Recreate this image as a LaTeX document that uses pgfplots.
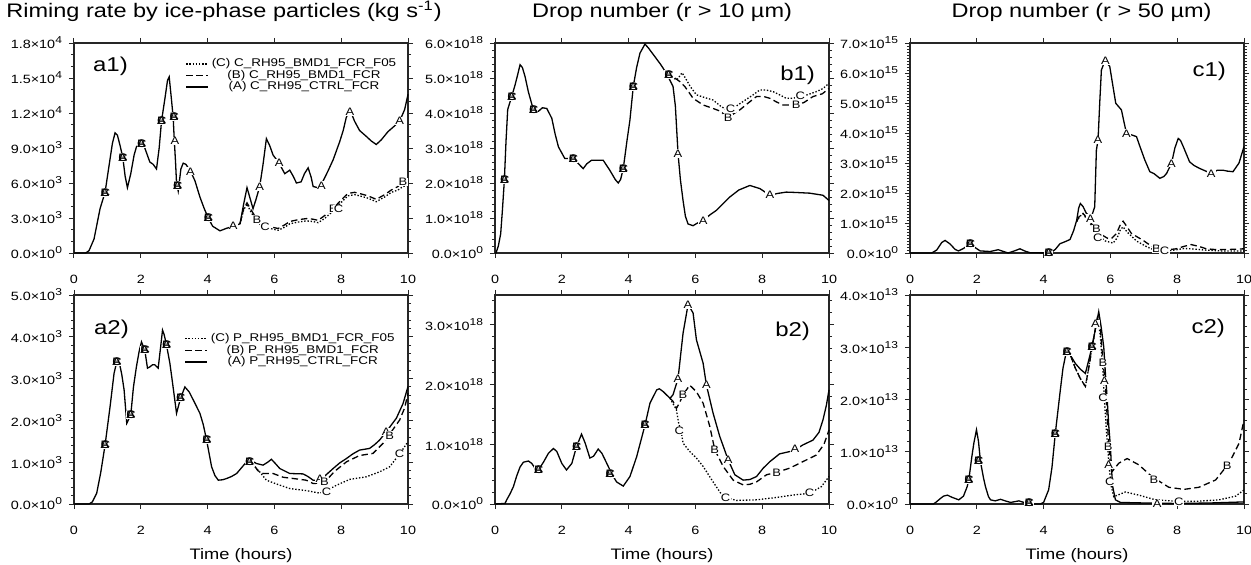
\documentclass[border=0pt]{standalone}
\usepackage{fontspec}
\setmainfont{Liberation Sans}[FakeStretch=1.2]
\usepackage{pgfplots}
\pgfplotsset{compat=1.18}

\newcommand\tickf{\fontsize{6}{7}\selectfont}
\newcommand\xtickf{\fontsize{6}{7}\selectfont}
\newcommand\labf{\fontsize{5.4}{6}\selectfont}
\newcommand\legf{\fontsize{5.6}{6}\selectfont}
\newcommand\titf{\fontsize{9.8}{11}\selectfont}
\newcommand\panf{\fontsize{10}{12}\selectfont}
\newcommand\xlf{\fontsize{7.6}{9}\selectfont}
\protected\def\ABC{\rlap{A}\rlap{C}B}
\newcommand\sci[2]{\mbox{\tickf #1×10\textsuperscript{#2}}}
\newcommand\xt[1]{\mbox{\xtickf #1}}

\pgfplotsset{
 panel/.style={anchor=south west, scale only axis, width=167pt, height=105pt,
   xmin=0, xmax=10, ymin=0, xtick={0,2,4,6,8,10},
   xticklabels={\xt{0},\xt{2},\xt{4},\xt{6},\xt{8},\xt{10}}, clip=false,
   tick align=outside, major tick length=2.6pt, minor tick length=1.6pt,
   axis line style={line width=0.6pt, black!85},
   every tick/.append style={line width=0.5pt, black!85},
   tick label style={font=\tickf},
   xticklabel style={anchor=base, yshift=-12.6pt},
   yticklabel style={xshift=0.6pt},
   legend image code/.code={\draw[##1] (0pt,0pt) -- (11pt,0pt);},
   title style={font=\titf, anchor=base, yshift=6.6pt},
   xlabel style={font=\xlf, at={(axis description cs:0.5,0)}, anchor=base, yshift=-27.6pt}},
 lA/.style={black, line width=0.65pt, solid},
 lB/.style={black, line width=0.65pt, dash pattern=on 3.2pt off 1.8pt},
 lC/.style={black, line width=0.65pt, dash pattern=on 0.7pt off 0.9pt},
 labs/.style={draw=none, mark=none, forget plot, nodes near coords, point meta=explicit symbolic,
   nodes near coords align=center,
   every node near coord/.style={font=\labf, fill=white, inner sep=0.2pt, anchor=center, text=black}},
 leg/.style={reverse legend, legend style={draw=none, fill=none, inner sep=0pt, row sep=0pt,
   column sep=1.5pt, font=\legf, nodes={inner sep=0pt, text height=4.2pt, text depth=1.6pt}}}
}

\begin{document}
\begin{tikzpicture}
\useasboundingbox (0,0) rectangle (625.5pt,282pt);

% ---------------- a1 ----------------
\begin{axis}[panel, leg, at={(37pt,155.5pt)},
  ymax=18, ytick={0,3,6,9,12,15,18}, minor y tick num=2,
  yticklabels={\sci{0.0}{0},\sci{3.0}{3},\sci{6.0}{3},\sci{9.0}{3},\sci{1.2}{4},\sci{1.5}{4},\sci{1.8}{4}},
  title={Riming rate by ice-phase particles (kg s\textsuperscript{-1})},
  title style={xshift=-8.5pt},
  legend style={at={(0.966,0.93)}, anchor=north east}]
\addplot[lA] coordinates {(0,0) (0.35,0) (0.45,0.2) (0.6,1.2) (0.78,3.8) (0.93,5.2) (1.05,7.5) (1.15,9.4) (1.23,10.3) (1.3,10.1) (1.38,9.2) (1.46,8.2) (1.53,6.6) (1.6,5.6) (1.7,6.8) (1.8,8.4) (1.87,9.1) (2.02,9.5) (2.12,9.0) (2.27,7.8) (2.37,7.6) (2.47,7.2) (2.55,9.0) (2.62,11.3) (2.72,13.2) (2.8,14.8) (2.85,15.1) (2.92,13.1) (2.97,11.6) (3.0,9.8) (3.04,7.8) (3.07,6.0) (3.12,5.3) (3.2,7.2) (3.27,7.7) (3.35,7.6) (3.49,7.0) (3.62,6.2) (3.77,4.8) (3.9,3.8) (4.02,3.0) (4.15,2.3) (4.37,1.9) (4.55,2.1) (4.77,2.3) (4.97,2.5) (5.08,4.2) (5.18,5.6) (5.27,4.7) (5.36,3.8) (5.45,4.6) (5.56,5.7) (5.66,7.6) (5.76,9.8) (5.86,9.2) (5.96,8.4) (6.14,7.7) (6.31,6.8) (6.46,7.1) (6.56,6.6) (6.66,6.0) (6.8,6.1) (6.9,6.8) (7.01,7.3) (7.1,6.5) (7.16,5.7) (7.3,5.6) (7.41,5.9) (7.6,7.0) (7.76,8.0) (7.95,9.5) (8.06,10.5) (8.15,11.6) (8.26,12.3) (8.4,11.3) (8.55,10.5) (8.75,10.0) (8.9,9.6) (9.05,9.3) (9.2,9.7) (9.4,10.4) (9.6,10.9) (9.75,11.3) (9.9,12.3) (10,13.6)};
\addlegendentry{(A) C\_RH95\_CTRL\_FCR}
\addplot[lB] coordinates {(4.97,2.5) (5.08,3.8) (5.18,4.3) (5.3,3.7) (5.5,2.8) (5.63,2.55) (5.76,2.4) (5.95,2.2) (6.11,2.1) (6.3,2.4) (6.46,2.7) (6.7,2.85) (6.96,2.95) (7.15,2.9) (7.31,2.8) (7.5,3.2) (7.76,3.8) (7.95,4.4) (8.2,5.1) (8.4,5.2) (8.55,5.1) (8.8,4.9) (9.05,4.6) (9.3,5.0) (9.5,5.4) (9.7,5.7) (9.85,6.1) (10,6.1)};
\addlegendentry{(B) C\_RH95\_BMD1\_FCR}
\addplot[lC] coordinates {(4.97,2.5) (5.08,3.7) (5.18,4.2) (5.3,3.5) (5.5,2.6) (5.63,2.35) (5.76,2.2) (5.95,2.05) (6.11,1.95) (6.3,2.2) (6.46,2.5) (6.7,2.65) (6.96,2.75) (7.15,2.7) (7.31,2.6) (7.5,2.95) (7.76,3.6) (7.95,4.2) (8.2,4.9) (8.4,5.0) (8.55,4.9) (8.8,4.7) (9.05,4.4) (9.3,4.8) (9.5,5.2) (9.7,5.4) (9.85,5.7) (10,5.8)};
\addlegendentry{(C) C\_RH95\_BMD1\_FCR\_F05}
\addplot[labs] coordinates {(0.93,5.2)[\ABC] (1.46,8.2)[\ABC] (2.02,9.4)[\ABC] (2.62,11.3)[\ABC] (2.99,11.7)[\ABC] (3.02,9.6)[A] (3.1,5.8)[\ABC] (3.49,7.0)[A] (4.02,3.0)[\ABC] (4.77,2.3)[A] (5.56,5.7)[A] (6.14,7.7)[A] (7.41,5.8)[A] (8.26,12.1)[A] (9.75,11.3)[A] (5.48,2.85)[B] (5.72,2.25)[C] (7.76,3.8)[B] (7.92,3.75)[C] (9.85,6.1)[B]};
\node[anchor=base west, font=\panf, xshift=6pt, yshift=-14.3pt] at (rel axis cs:0,1) {a1)};
\end{axis}

% ---------------- b1 ----------------
\begin{axis}[panel, at={(247.5pt,155.5pt)},
  ymax=6, ytick={0,1,2,3,4,5,6}, minor y tick num=4,
  yticklabels={\sci{0.0}{0},\sci{1.0}{18},\sci{2.0}{18},\sci{3.0}{18},\sci{4.0}{18},\sci{5.0}{18},\sci{6.0}{18}},
  title={Drop number (r > 10 µm)}]
\addplot[lA] coordinates {(0,0) (0.03,0) (0.1,0.2) (0.17,0.55) (0.22,1.2) (0.28,2.08) (0.33,3.2) (0.38,4.1) (0.5,4.47) (0.6,4.8) (0.68,5.1) (0.75,5.38) (0.82,5.3) (0.9,5.04) (1.0,4.6) (1.15,4.09) (1.3,4.05) (1.42,4.15) (1.55,4.13) (1.7,3.85) (1.8,3.4) (1.9,3.03) (2.09,2.7) (2.34,2.7) (2.5,2.55) (2.64,2.41) (2.75,2.55) (2.89,2.65) (3.24,2.65) (3.44,2.36) (3.6,2.1) (3.69,2.0) (3.76,2.1) (3.84,2.41) (3.95,3.2) (4.04,3.8) (4.14,4.76) (4.24,5.3) (4.34,5.71) (4.49,5.97) (4.6,5.85) (4.74,5.67) (4.95,5.4) (5.13,5.14) (5.33,4.76) (5.4,4.2) (5.48,2.84) (5.55,2.1) (5.63,1.5) (5.7,1.05) (5.78,0.83) (5.93,0.78) (6.05,0.85) (6.23,0.93) (6.45,1.1) (6.63,1.22) (7.03,1.6) (7.3,1.8) (7.63,1.93) (7.93,1.84) (8.23,1.65) (8.45,1.7) (8.72,1.74) (9.0,1.73) (9.42,1.71) (9.82,1.65) (10,1.5)};
\addplot[lB] coordinates {(5.13,5.14) (5.33,5.04) (5.53,4.9) (5.68,4.76) (5.8,4.6) (5.93,4.42) (6.23,4.23) (6.53,4.13) (6.75,4.05) (6.93,3.9) (7.1,3.95) (7.33,4.09) (7.6,4.3) (7.83,4.47) (8.05,4.47) (8.23,4.42) (8.42,4.32) (8.62,4.23) (9.02,4.23) (9.25,4.3) (9.52,4.47) (9.8,4.55) (10,4.7)};
\addplot[lC] coordinates {(5.13,5.14) (5.33,5.0) (5.45,4.95) (5.6,5.15) (5.7,5.0) (5.85,4.75) (6.03,4.52) (6.25,4.45) (6.53,4.37) (6.75,4.2) (6.93,4.09) (7.15,4.15) (7.43,4.33) (7.7,4.5) (7.93,4.66) (8.1,4.66) (8.33,4.61) (8.52,4.52) (8.72,4.42) (8.92,4.42) (9.12,4.47) (9.35,4.52) (9.62,4.61) (9.82,4.7) (10,4.85)};
\addplot[labs] coordinates {(0.28,2.08)[\ABC] (0.5,4.47)[\ABC] (1.15,4.09)[\ABC] (2.34,2.7)[\ABC] (3.84,2.41)[\ABC] (4.14,4.76)[\ABC] (5.2,5.1)[\ABC] (5.48,2.84)[A] (6.23,0.93)[A] (8.23,1.65)[A] (6.98,3.85)[B] (7.05,4.12)[C] (9.02,4.23)[B] (9.14,4.5)[C]};
\node[anchor=base east, font=\panf, xshift=-3.5pt, yshift=-18.5pt] at (rel axis cs:1,1) {b1)};
\end{axis}

% ---------------- c1 ----------------
\begin{axis}[panel, at={(455pt,155.5pt)},
  ymax=7, ytick={0,1,2,3,4,5,6,7}, minor y tick num=9,
  yticklabels={\sci{0.0}{0},\sci{1.0}{15},\sci{2.0}{15},\sci{3.0}{15},\sci{4.0}{15},\sci{5.0}{15},\sci{6.0}{15},\sci{7.0}{15}},
  title={Drop number (r > 50 µm)}, title style={xshift=2.3pt}]
\addplot[lA] coordinates {(0,0) (0.65,0) (0.8,0.1) (0.95,0.35) (1.05,0.42) (1.2,0.3) (1.35,0.12) (1.45,0.07) (1.6,0.15) (1.8,0.31) (1.95,0.18) (2.1,0.07) (2.4,0.05) (2.64,0.11) (2.8,0.05) (2.94,0) (3.15,0.08) (3.29,0.14) (3.45,0.06) (3.59,0.01) (4.2,0) (4.35,0.12) (4.49,0.31) (4.65,0.38) (4.79,0.45) (4.9,0.75) (4.99,1.09) (5.05,1.5) (5.1,1.65) (5.18,1.55) (5.28,1.32) (5.43,1.2) (5.53,1.54) (5.58,3.43) (5.63,3.77) (5.68,5.0) (5.73,6.1) (5.83,6.39) (5.92,6.3) (5.98,6.22) (6.07,5.6) (6.16,4.99) (6.33,4.77) (6.4,4.4) (6.48,3.99) (6.6,3.95) (6.78,3.88) (6.9,3.5) (7.03,3.1) (7.18,2.71) (7.3,2.65) (7.48,2.49) (7.6,2.55) (7.68,2.65) (7.83,2.99) (7.93,3.5) (8.03,3.82) (8.1,3.75) (8.18,3.55) (8.37,3.04) (8.5,2.92) (8.67,2.82) (9.02,2.65) (9.2,2.76) (9.37,2.76) (9.5,2.73) (9.67,2.71) (9.85,3.0) (10,3.55)};
\addplot[lB] coordinates {(4.99,1.05) (5.08,1.25) (5.18,1.32) (5.35,1.1) (5.58,0.76) (5.75,0.6) (5.93,0.48) (6.05,0.5) (6.18,0.65) (6.3,0.95) (6.38,1.06) (6.48,0.9) (6.63,0.65) (6.98,0.42) (7.2,0.25) (7.38,0.14) (7.58,0.09) (7.97,0.14) (8.2,0.22) (8.42,0.28) (8.65,0.22) (8.87,0.14) (9.2,0.11) (9.6,0.12) (10,0.14)};
\addplot[lC] coordinates {(4.99,1.05) (5.08,1.22) (5.18,1.3) (5.35,1.05) (5.58,0.7) (5.68,0.54) (5.85,0.4) (6.08,0.33) (6.2,0.5) (6.3,0.78) (6.38,0.87) (6.5,0.7) (6.78,0.4) (7.1,0.2) (7.38,0.07) (7.7,0.07) (7.98,0.11) (8.2,0.15) (8.42,0.14) (8.8,0.1) (9.3,0.07) (10,0.07)};
\addplot[labs] coordinates {(1.8,0.31)[\ABC] (4.15,0.02)[\ABC] (5.63,3.77)[A] (5.85,6.4)[A] (6.48,3.99)[A] (7.83,2.99)[A] (9.02,2.65)[A] (5.4,1.15)[A] (5.58,0.8)[B] (5.62,0.5)[C] (7.38,0.14)[B] (7.62,0.09)[C]};
\node[anchor=base east, font=\panf, xshift=-5.5pt, yshift=-16.5pt] at (rel axis cs:1,1) {c1)};
\end{axis}

% ---------------- a2 ----------------
\begin{axis}[panel, leg, at={(37pt,30pt)}, height=104.5pt,
  ymax=5, ytick={0,1,2,3,4,5}, minor y tick num=4,
  yticklabels={\sci{0.0}{0},\sci{1.0}{3},\sci{2.0}{3},\sci{3.0}{3},\sci{4.0}{3},\sci{5.0}{3}},
  xlabel={Time (hours)},
  legend style={at={(0.961,0.82)}, anchor=north east}]
\addplot[lA] coordinates {(0,0) (0.45,0) (0.55,0.05) (0.68,0.26) (0.8,0.75) (0.93,1.41) (1.08,2.33) (1.2,3.13) (1.28,3.4) (1.36,3.37) (1.43,3.1) (1.5,2.73) (1.58,1.93) (1.7,2.13) (1.78,2.8) (1.87,3.29) (1.95,3.65) (2.02,3.88) (2.12,3.68) (2.2,3.25) (2.27,3.28) (2.35,3.33) (2.42,3.33) (2.52,3.25) (2.6,3.8) (2.65,4.16) (2.7,4.05) (2.77,3.8) (2.87,3.37) (2.95,2.9) (3.07,2.17) (3.19,2.53) (3.32,2.8) (3.45,2.68) (3.57,2.49) (3.77,2.17) (3.87,1.9) (3.97,1.53) (4.12,0.89) (4.22,0.68) (4.32,0.57) (4.45,0.58) (4.57,0.61) (4.72,0.66) (4.87,0.73) (5.05,0.9) (5.21,1.05) (5.35,1.02) (5.46,0.97) (5.66,0.93) (5.8,1.0) (5.91,1.07) (6.05,0.95) (6.16,0.85) (6.46,0.73) (6.86,0.72) (7.0,0.66) (7.16,0.57) (7.36,0.57) (7.55,0.7) (7.76,0.85) (7.95,0.98) (8.16,1.09) (8.35,1.2) (8.55,1.29) (8.85,1.33) (9.0,1.42) (9.15,1.53) (9.35,1.73) (9.65,2.05) (9.85,2.4) (10,2.81)};
\addlegendentry{(A) P\_RH95\_CTRL\_FCR}
\addplot[lB] coordinates {(5.21,1.05) (5.35,0.98) (5.5,0.8) (5.66,0.73) (5.96,0.73) (6.26,0.64) (6.76,0.59) (6.95,0.57) (7.16,0.49) (7.35,0.5) (7.56,0.57) (7.8,0.78) (8.16,1.01) (8.55,1.16) (8.95,1.21) (9.25,1.45) (9.45,1.67) (9.75,2.01) (9.9,2.3) (10,2.65)};
\addlegendentry{(B) P\_RH95\_BMD1\_FCR}
\addplot[lC] coordinates {(5.21,1.05) (5.35,0.95) (5.56,0.77) (5.76,0.57) (6.06,0.48) (6.46,0.37) (6.96,0.32) (7.36,0.26) (7.56,0.32) (7.86,0.45) (8.26,0.59) (8.75,0.65) (9.15,0.77) (9.45,0.89) (9.75,1.2) (10,1.49)};
\addlegendentry{(C) P\_RH95\_BMD1\_FCR\_F05}
\addplot[labs] coordinates {(0.93,1.41)[\ABC] (1.28,3.4)[\ABC] (1.7,2.13)[\ABC] (2.12,3.68)[\ABC] (2.77,3.8)[\ABC] (3.19,2.53)[\ABC] (3.97,1.53)[\ABC] (5.25,1.02)[\ABC] (7.36,0.6)[A] (7.5,0.52)[B] (7.56,0.3)[C] (9.35,1.73)[A] (9.45,1.64)[B] (9.75,1.2)[C]};
\node[anchor=base west, font=\panf, xshift=6.5pt, yshift=-19.5pt] at (rel axis cs:0,1) {a2)};
\end{axis}

% ---------------- b2 ----------------
\begin{axis}[panel, at={(247.5pt,30pt)}, height=104.5pt,
  ymax=3.5, ytick={0,1,2,3}, minor ytick={0.2,0.4,...,3.41},
  yticklabels={\sci{0.0}{0},\sci{1.0}{18},\sci{2.0}{18},\sci{3.0}{18}},
  xlabel={Time (hours)}]
\addplot[lA] coordinates {(0,0) (0.3,0.01) (0.35,0.07) (0.45,0.17) (0.55,0.29) (0.65,0.47) (0.75,0.62) (0.85,0.7) (1.0,0.72) (1.1,0.68) (1.2,0.6) (1.3,0.57) (1.45,0.7) (1.6,0.85) (1.75,0.93) (1.85,0.88) (2.0,0.68) (2.14,0.57) (2.3,0.68) (2.44,0.96) (2.59,1.17) (2.7,1.02) (2.84,0.77) (2.95,0.8) (3.09,0.92) (3.2,0.85) (3.39,0.63) (3.5,0.5) (3.64,0.37) (3.84,0.3) (4.04,0.46) (4.24,0.79) (4.49,1.32) (4.64,1.69) (4.84,1.91) (4.92,1.93) (5.04,1.88) (5.24,1.77) (5.33,1.83) (5.48,2.1) (5.63,2.86) (5.78,3.34) (5.93,3.2) (6.03,2.75) (6.23,2.36) (6.33,1.99) (6.53,1.52) (6.73,1.13) (6.98,0.74) (7.18,0.49) (7.43,0.4) (7.63,0.41) (7.83,0.46) (8.03,0.6) (8.23,0.71) (8.52,0.84) (8.92,0.89) (9.22,0.99) (9.52,1.07) (9.7,1.2) (9.82,1.41) (9.92,1.65) (10,1.91)};
\addplot[lB] coordinates {(5.24,1.77) (5.33,1.72) (5.43,1.6) (5.53,1.7) (5.63,1.83) (5.83,1.99) (6.03,1.88) (6.23,1.69) (6.43,1.3) (6.58,0.91) (6.83,0.63) (7.13,0.4) (7.43,0.32) (7.63,0.33) (7.83,0.37) (8.13,0.49) (8.43,0.53) (8.82,0.6) (9.22,0.71) (9.62,0.82) (9.85,1.0) (10,1.24)};
\addplot[lC] coordinates {(5.24,1.77) (5.33,1.68) (5.43,1.58) (5.5,1.35) (5.58,1.2) (5.63,1.02) (5.83,0.88) (6.03,0.77) (6.23,0.63) (6.53,0.37) (6.83,0.12) (7.23,0.06) (7.83,0.07) (8.43,0.11) (8.92,0.15) (9.42,0.18) (9.77,0.29) (10,0.46)};
\addplot[labs] coordinates {(1.3,0.57)[\ABC] (2.44,0.96)[\ABC] (3.44,0.51)[\ABC] (4.49,1.32)[\ABC] (5.48,2.1)[A] (5.78,3.34)[A] (6.33,1.99)[A] (6.98,0.74)[A] (8.98,0.92)[A] (5.63,1.83)[B] (6.58,0.91)[B] (8.43,0.53)[B] (5.52,1.22)[C] (6.9,0.1)[C] (9.42,0.18)[C]};
\node[anchor=base east, font=\panf, xshift=-6pt, yshift=-20.8pt] at (rel axis cs:1,1) {b2)};
\end{axis}

% ---------------- c2 ----------------
\begin{axis}[panel, at={(455pt,30pt)}, height=104.5pt,
  ymax=4, ytick={0,1,2,3,4}, minor y tick num=4,
  yticklabels={\sci{0.0}{0},\sci{1.0}{13},\sci{2.0}{13},\sci{3.0}{13},\sci{4.0}{13}},
  xlabel={Time (hours)}]
\addplot[lA] coordinates {(0,0) (0.7,0) (0.77,0.03) (0.9,0.1) (1.0,0.15) (1.12,0.17) (1.25,0.13) (1.46,0.08) (1.6,0.15) (1.71,0.33) (1.76,0.46) (1.85,0.9) (1.91,1.16) (1.99,1.42) (2.05,1.2) (2.11,0.81) (2.2,0.5) (2.26,0.33) (2.35,0.14) (2.41,0.08) (2.55,0.06) (2.71,0.09) (2.85,0.06) (3.01,0.03) (3.26,0.06) (3.56,0) (3.9,0) (4.0,0.03) (4.15,0.27) (4.25,0.7) (4.35,1.35) (4.5,2.18) (4.58,2.6) (4.65,2.82) (4.7,2.92) (4.8,2.85) (4.95,2.69) (5.1,2.58) (5.25,2.5) (5.35,2.75) (5.45,3.01) (5.55,3.35) (5.65,3.68) (5.72,3.4) (5.8,3.01) (5.85,2.5) (5.9,2.05) (5.95,1.5) (6.0,1.1) (6.04,0.6) (6.07,0.33) (6.15,0.08) (6.3,0.03) (7.0,0.02) (8.0,0.01) (9.0,0.02) (10,0.04)};
\addplot[lB] coordinates {(4.8,2.85) (4.95,2.6) (5.1,2.4) (5.25,2.25) (5.35,2.6) (5.45,3.0) (5.55,3.35) (5.62,3.6) (5.7,3.35) (5.78,2.7) (5.85,2.3) (5.9,1.7) (5.95,1.1) (6.0,0.75) (6.05,0.62) (6.25,0.78) (6.5,0.87) (6.85,0.75) (7.25,0.52) (7.75,0.32) (8.2,0.28) (8.65,0.32) (9.15,0.46) (9.55,0.78) (9.85,1.16) (10,1.61)};
\addplot[lC] coordinates {(4.8,2.85) (4.95,2.6) (5.1,2.4) (5.25,2.25) (5.35,2.6) (5.45,3.0) (5.55,3.35) (5.62,3.58) (5.7,3.2) (5.78,2.5) (5.82,2.0) (5.88,1.4) (5.95,0.8) (6.02,0.35) (6.1,0.14) (6.45,0.23) (6.85,0.17) (7.35,0.08) (8.05,0.05) (8.55,0.05) (9.25,0.08) (9.75,0.15) (10,0.27)};
\addplot[labs] coordinates {(1.76,0.46)[\ABC] (2.05,0.82)[\ABC] (3.56,0.02)[\ABC] (4.35,1.35)[\ABC] (4.7,2.92)[\ABC] (5.45,3.0)[\ABC] (5.55,3.45)[A] (5.78,2.7)[B] (5.82,2.35)[A] (5.78,2.03)[C] (5.93,1.1)[B] (5.95,0.75)[A] (5.98,0.42)[C] (7.3,0.47)[B] (9.5,0.74)[B] (7.4,0.0)[A] (8.05,0.05)[C]};
\node[anchor=base east, font=\panf, xshift=-6pt, yshift=-19pt] at (rel axis cs:1,1) {c2)};
\end{axis}
\end{tikzpicture}
\end{document}
